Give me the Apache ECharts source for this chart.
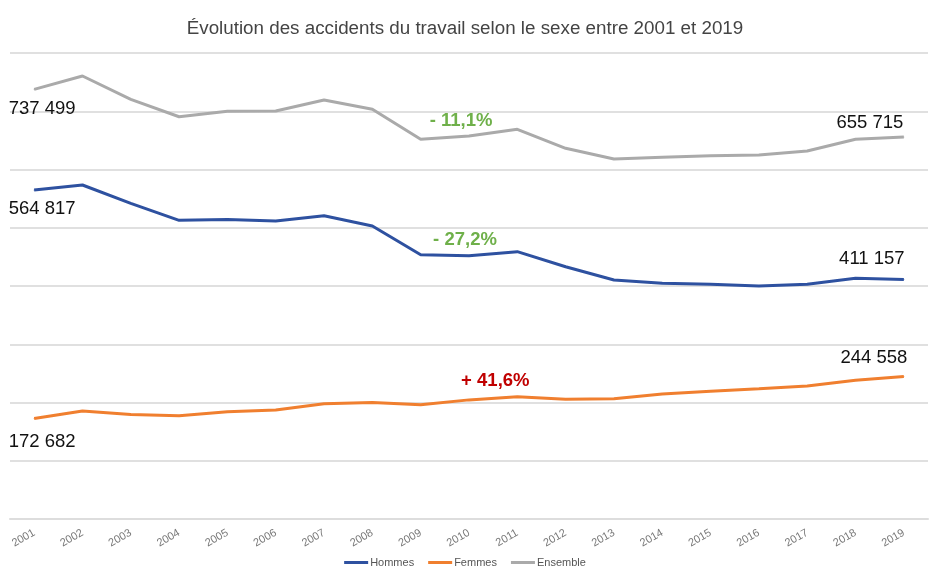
<!DOCTYPE html>
<html>
<head>
<meta charset="utf-8">
<script src="https://cdn.jsdelivr.net/npm/echarts@6/dist/echarts.min.js"></script>
<style>html,body{margin:0;padding:0;background:#fff}#c{width:930px;height:573px}</style>
</head>
<body>
<div id="c"></div>
<script>
const categories = ['2001','2002','2003','2004','2005','2006','2007','2008','2009','2010','2011','2012','2013','2014','2015','2016','2017','2018','2019'];
const hommes = [564817,573400,541900,512800,514000,511600,520700,503000,453700,452000,458900,433100,410300,404600,402900,400000,402900,413200,411157];
const femmes = [172682,185500,179500,177300,184000,187000,198000,200000,196000,204500,210000,205500,206500,214500,219500,223800,228500,238000,244558];
const ensemble = [737499,760500,720500,690600,700000,700400,719300,703300,651800,657500,669000,636400,618000,620900,623700,624900,631700,651800,655715];
const seriesNames = ['Hommes','Femmes','Ensemble'];
const annotations = [
  {series: 'Ensemble', at: '2010', text: '- 11,1%', color: '#6fb04a'},
  {series: 'Hommes', at: '2010', text: '- 27,2%', color: '#6fb04a'},
  {series: 'Femmes', at: '2011', text: '+ 41,6%', color: '#c00000'}
];

const fmt = v => String(v).replace(/\B(?=(\d{3})+(?!\d))/g, ' ');
const FONT = '"Liberation Sans", Arial, Helvetica, sans-serif';

function buildData(arr, firstOffset, lastOffset) {
  return arr.map((v, i) => {
    if (i === 0) return {value: v, label: {show: true, position: 'bottom', offset: firstOffset, formatter: p => fmt(p.value)}};
    if (i === arr.length - 1) return {value: v, label: {show: true, position: 'top', offset: lastOffset, formatter: p => fmt(p.value)}};
    return v;
  });
}

function markFor(name, arr, labelOffset) {
  const a = annotations.find(x => x.series === name);
  const idx = categories.indexOf(a.at);
  return {
    silent: true,
    symbol: 'circle',
    symbolSize: 1,
    itemStyle: {color: 'rgba(0,0,0,0)'},
    data: [{coord: [a.at, arr[idx]], value: a.text}],
    label: {show: true, position: 'inside', offset: labelOffset, formatter: a.text, color: a.color, fontWeight: 'bold', fontSize: 18.5, fontFamily: FONT}
  };
}

const chart = echarts.init(document.getElementById('c'));
const baseLine = (name, color, data, mp) => ({
  name, type: 'line', data, symbol: 'circle', symbolSize: 1, showSymbol: true, smooth: false,
  lineStyle: {width: 3, color}, itemStyle: {color},
  label: {show: false, color: '#111', fontSize: 18.5, fontFamily: FONT},
  markPoint: mp, z: 3
});

chart.setOption({
  animation: false,
  backgroundColor: '#fff',
  title: {
    text: 'Évolution des accidents du travail selon le sexe entre 2001 et 2019',
    left: 'center', top: 14,
    textStyle: {fontSize: 18.8, fontWeight: 'normal', color: '#444', fontFamily: FONT}
  },
  legend: {
    data: seriesNames, bottom: 0, left: 'center',
    icon: 'rect', itemWidth: 24, itemHeight: 3, itemGap: 14,
    textStyle: {fontSize: 11, color: '#555', fontFamily: FONT, padding: [0, 0, 0, -3]}
  },
  grid: {left: 10, right: 2, top: 53, bottom: 54},
  xAxis: {
    type: 'category', data: categories, boundaryGap: true,
    axisLine: {show: true, lineStyle: {color: '#dddddd', width: 2}},
    axisTick: {show: false},
    axisLabel: {rotate: 30, fontSize: 11, color: '#777', fontFamily: FONT, margin: 13, interval: 0}
  },
  yAxis: {
    type: 'value', min: 0, max: 800000, interval: 100000,
    axisLabel: {show: false}, axisLine: {show: false}, axisTick: {show: false},
    splitLine: {lineStyle: {color: '#e0e0e0', width: 2}}
  },
  series: [
    baseLine('Hommes', '#2e51a0', buildData(hommes, [8, 4], [-32, -6]), markFor('Hommes', hommes, [-4, -16])),
    baseLine('Femmes', '#f07f2f', buildData(femmes, [8, 8], [-30, -4]), markFor('Femmes', femmes, [-22, -16])),
    baseLine('Ensemble', '#aaaaaa', buildData(ensemble, [8, 4], [-34, 1]), markFor('Ensemble', ensemble, [-8, -15]))
  ]
});
</script>
</body>
</html>
